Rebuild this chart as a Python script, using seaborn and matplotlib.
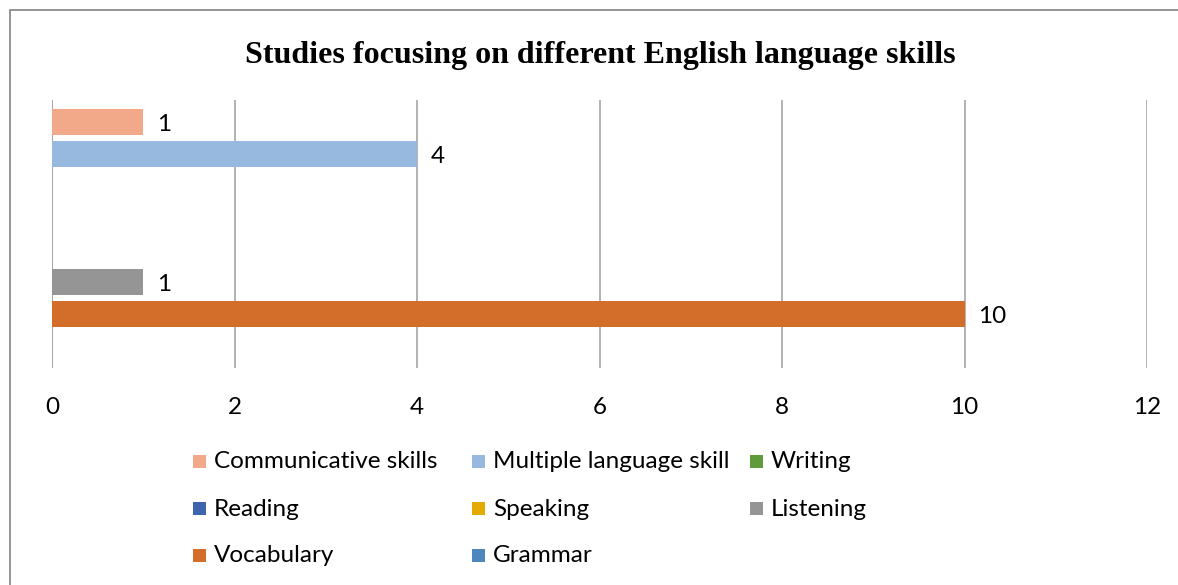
import matplotlib
matplotlib.use("Agg")
import matplotlib.pyplot as plt
import seaborn as sns
import pandas as pd
from matplotlib.patches import Rectangle

series = ["Communicative skills", "Multiple language skill", "Writing", "Reading",
          "Speaking", "Listening", "Vocabulary", "Grammar"]
values = [1, 4, 0, 0, 0, 1, 10, 0]
colors = ["#F2A98A", "#97B9E0", "#5F9A3B", "#3E64AD", "#E5AA00", "#959595", "#D26E2A", "#4E87BC"]
xticks = [0, 2, 4, 6, 8, 10, 12]
title = "Studies focusing on different English language skills"

sns.set_theme(style="white")
plt.rcParams["font.family"] = ["Lato", "DejaVu Sans"]

W, H = 1178, 585
fig = plt.figure(figsize=(W / 100, H / 100), dpi=100)
ax = fig.add_axes([52 / W, 1 - 368 / H, (1147 - 52) / W, (368 - 100) / H])

df = pd.DataFrame({"series": series, "value": values})
sns.barplot(data=df, y="series", x="value", hue="series", palette=colors,
            order=series, hue_order=series, orient="h", width=0.8125,
            dodge=False, legend=False, ax=ax, saturation=1, linewidth=0)

ax.set_xlim(0, 12)
pad = 6 / 32
ax.set_ylim(len(series) - 0.5 + pad, -0.5 - pad)
ax.set_xticks(xticks)
ax.set_xticklabels([str(t) for t in xticks], fontsize=17.5, color="#000000")
ax.tick_params(axis="x", length=0, pad=21)
ax.set_yticks([])
ax.set_xlabel("")
ax.set_ylabel("")
for s in ax.spines.values():
    s.set_visible(False)
ax.grid(axis="x", color="#A6A6A6", linewidth=1.2)
ax.grid(axis="y", visible=False)
ax.set_axisbelow(True)
ax.axvline(0, color="#A6A6A6", linewidth=1.2, zorder=0)

for i, v in enumerate(values):
    if v > 0:
        ax.annotate(str(v), xy=(v, i), xytext=(10, -2), textcoords="offset points",
                    va="center", ha="left", fontsize=17.5, color="#000000")

fig.text(600 / W, 1 - 55 / H, title, ha="center", va="center",
         fontsize=23, fontweight="bold", family="Liberation Serif", color="#000000")

# legend (3 columns, Excel style)
col_x = [193, 472, 750]
row_y = [461, 508, 555]
msz = 13
for k, (name, c) in enumerate(zip(series, colors)):
    r, cidx = divmod(k, 3)
    x0, y0 = col_x[cidx], row_y[r]
    fig.patches.append(Rectangle((x0 / W, 1 - (y0 + msz / 2) / H), msz / W, msz / H,
                                 transform=fig.transFigure, facecolor=c, edgecolor="none"))
    fig.text((x0 + 21) / W, 1 - (y0 + 1) / H, name, ha="left", va="center",
             fontsize=17.5, color="#000000")

# chart border
fig.patches.append(Rectangle((9.5 / W, -0.05), 1.2, 1 - 10 / H + 0.05,
                             transform=fig.transFigure, facecolor="none",
                             edgecolor="#8C8C8C", linewidth=1.3, clip_on=False))

fig.savefig("out.png", dpi=100)
